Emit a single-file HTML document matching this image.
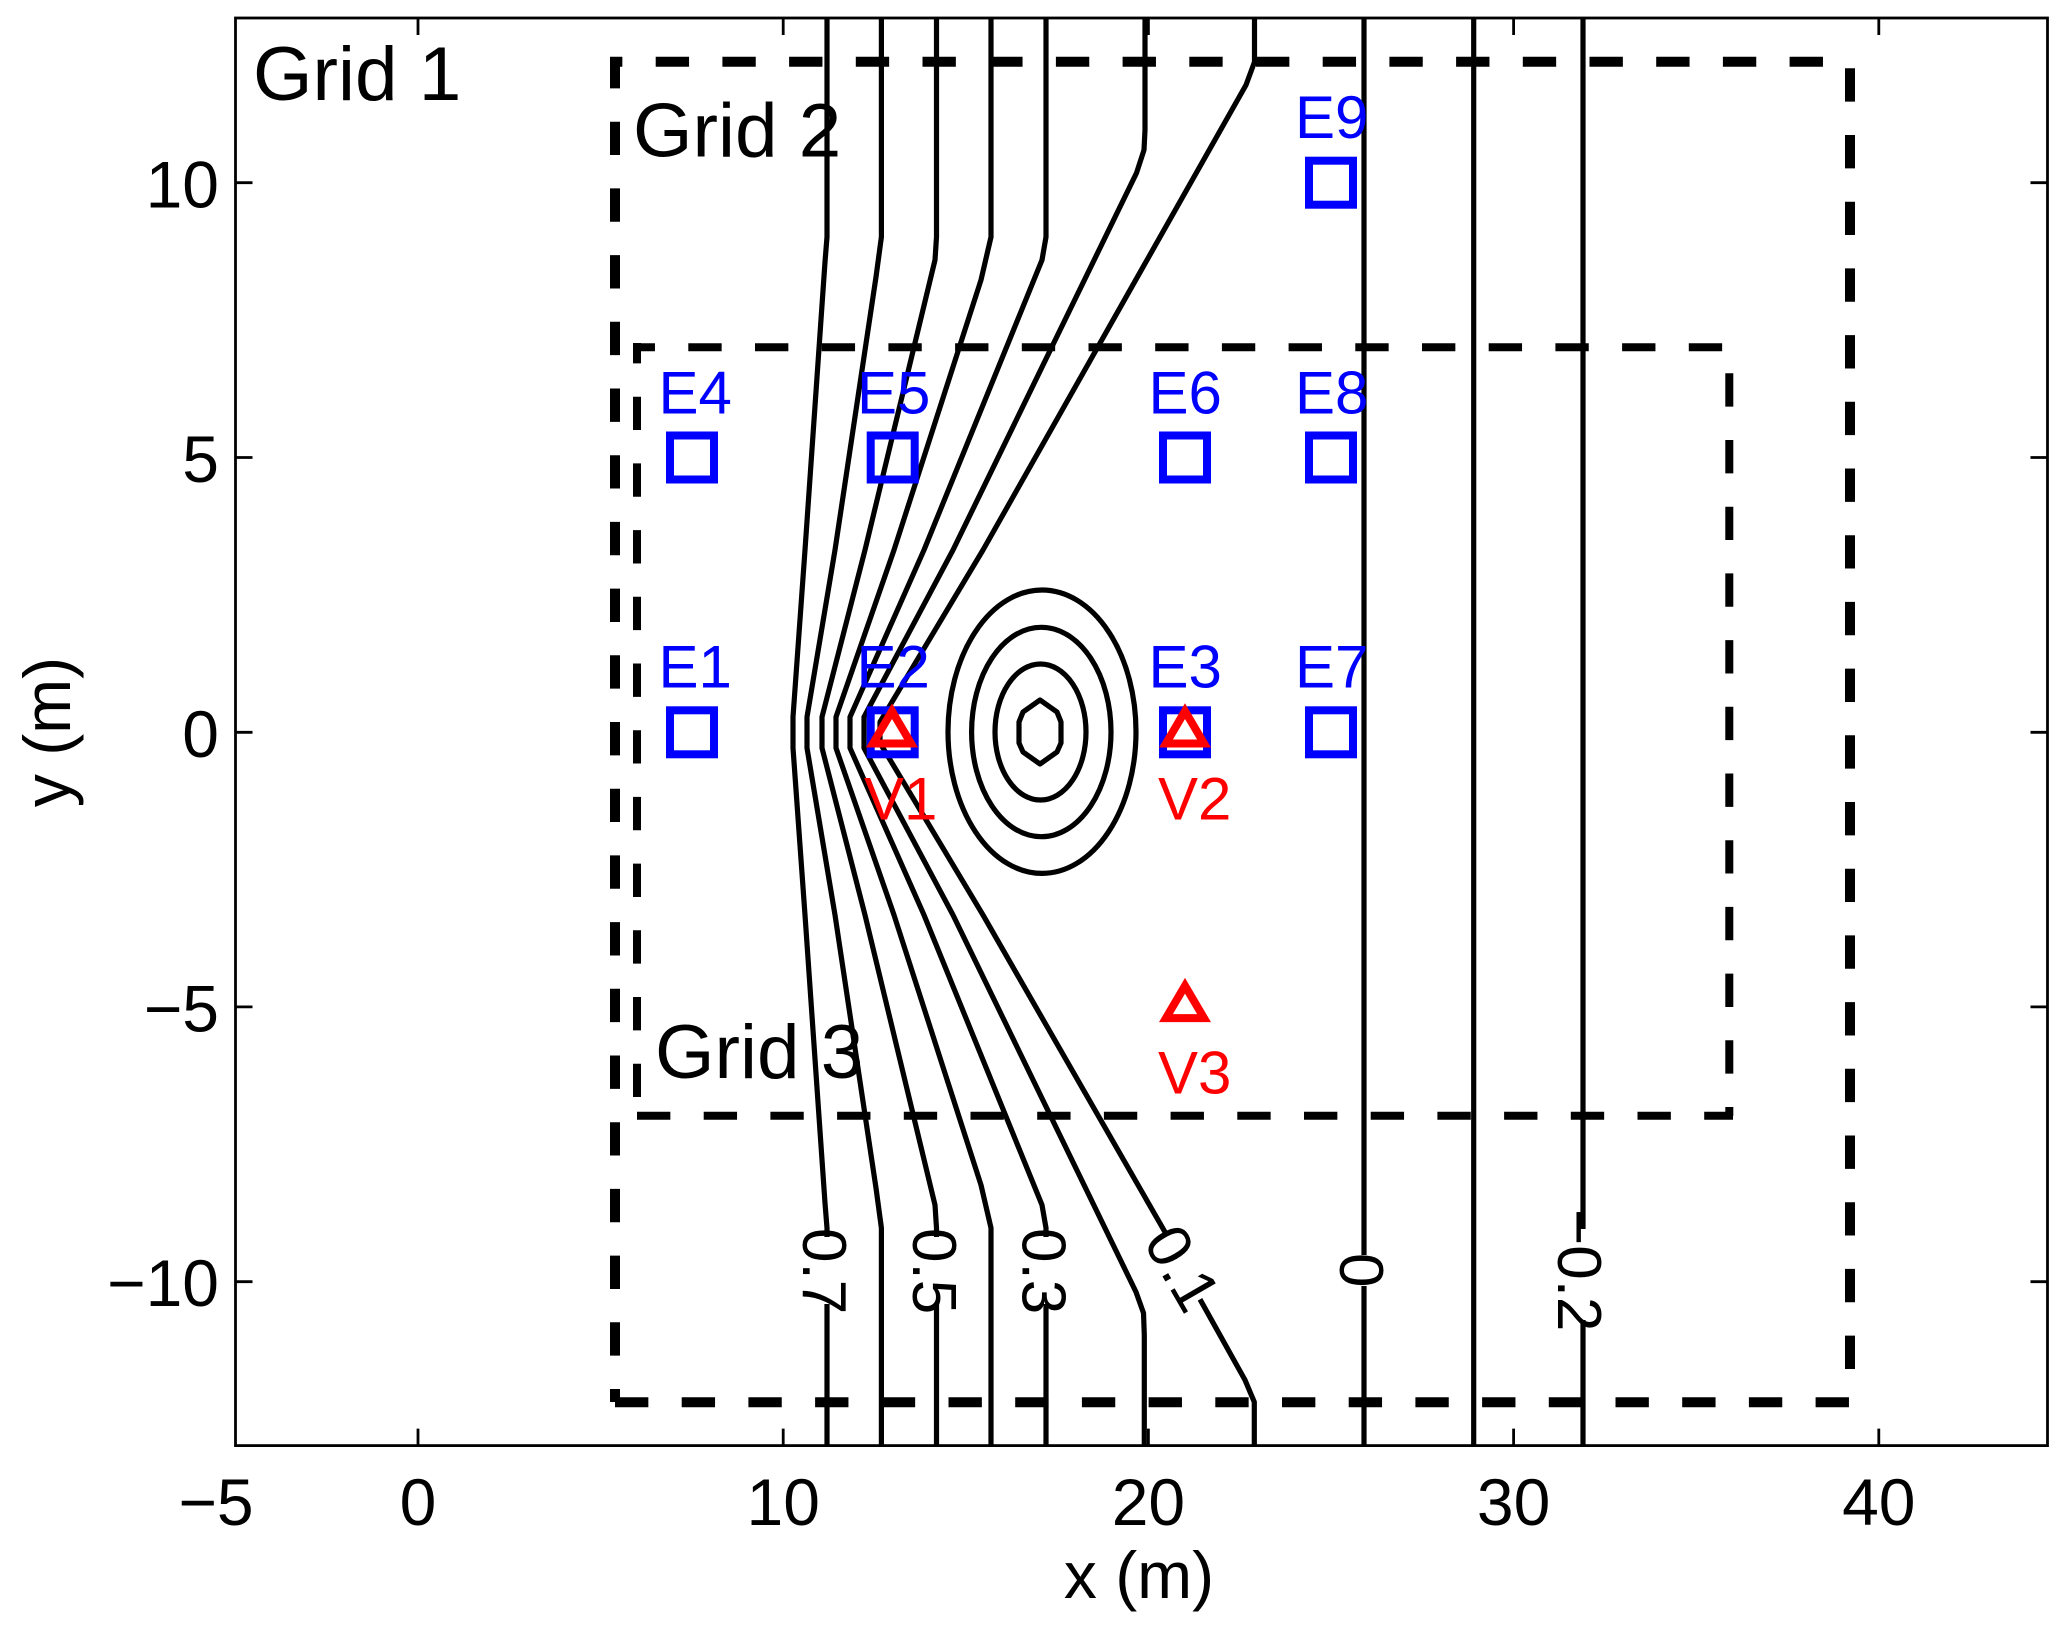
<!DOCTYPE html>
<html lang="en">
<head>
<meta charset="utf-8">
<title>Grid diagram</title>
<style>
html,body{margin:0;padding:0;background:#fff;}
svg{display:block;}
text{font-family:"Liberation Sans",sans-serif;}
</style>
</head>
<body>
<svg xmlns="http://www.w3.org/2000/svg" width="2067" height="1630" viewBox="0 0 2067 1630">
<rect width="2067" height="1630" fill="#fff"/>

<!-- axes frame -->
<rect x="235.5" y="18" width="1812" height="1427.6" fill="none" stroke="#000" stroke-width="2.8"/>
<g stroke="#000" stroke-width="2.8" fill="none">
<path d="M418 18v17M783.2 18v17M1148.4 18v17M1513.6 18v17M1878.8 18v17"/>
<path d="M418 1445.6v-17M783.2 1445.6v-17M1148.4 1445.6v-17M1513.6 1445.6v-17M1878.8 1445.6v-17"/>
<path d="M235.5 182.7h17M235.5 457.5h17M235.5 732.3h17M235.5 1006.9h17M235.5 1281.7h17"/>
<path d="M2047.5 182.7h-17M2047.5 457.5h-17M2047.5 732.3h-17M2047.5 1006.9h-17M2047.5 1281.7h-17"/>
</g>

<!-- tick labels -->
<g font-size="66" fill="#000" text-anchor="middle">
<text x="216" y="1525">−5</text>
<text x="418" y="1525">0</text>
<text x="783.2" y="1525">10</text>
<text x="1148.4" y="1525">20</text>
<text x="1513.6" y="1525">30</text>
<text x="1878.8" y="1525">40</text>
</g>
<g font-size="66" fill="#000" text-anchor="end">
<text x="219" y="207.5">10</text>
<text x="219" y="482">5</text>
<text x="219" y="757">0</text>
<text x="219" y="1031.5">−5</text>
<text x="219" y="1306">−10</text>
</g>
<text x="1139" y="1598" font-size="66" text-anchor="middle" fill="#000">x (m)</text>
<text transform="translate(70,732) rotate(-90)" font-size="66" text-anchor="middle" fill="#000">y (m)</text>

<!-- Grid 2 dashed -->
<g stroke="#000" stroke-width="10" fill="none" stroke-dasharray="33.35 33.35">
<line x1="610" y1="61.7" x2="1830" y2="61.7" stroke-dashoffset="21"/>
<line x1="615" y1="57" x2="615" y2="1402" stroke-dashoffset="2"/>
<line x1="1850" y1="68.3" x2="1850" y2="1369"/>
<line x1="615" y1="1402.3" x2="1850" y2="1402.3"/>
</g>
<!-- Grid 3 dashed -->
<g stroke="#000" stroke-width="8" fill="none" stroke-dasharray="33.35 33.35">
<line x1="633" y1="347.3" x2="1725" y2="347.3" stroke-dashoffset="11.4"/>
<line x1="637" y1="343" x2="637" y2="1100" stroke-dashoffset="13"/>
<line x1="1729.3" y1="373.3" x2="1729.3" y2="1116"/>
<line x1="637" y1="1115.8" x2="1733" y2="1115.8"/>
</g>

<!-- contours -->
<g stroke="#000" stroke-width="5.2" fill="none" stroke-linejoin="round">
<path d="M827 18V237L825 262L805 550L793 717V748L805 915L825 1203L827 1228V1237M827 1304V1445"/>
<path d="M881.4 18V237L876 277L835 550L807 717V748L835 915L876 1188L881.4 1228V1445"/>
<path d="M936.5 18V237L935 260L865 550L822 717V748L865 915L935 1205L936.5 1228V1237M936.5 1304V1445"/>
<path d="M991 18V237L981 280L894 550L836 717V748L894 915L981 1185L991 1228V1445"/>
<path d="M1046 18V237L1042 260L924 550L850 717V748L924 915L1042 1205L1046 1228V1237M1046 1304V1445"/>
<path d="M1145 18V130L1144 150L1136.5 173L953 550L864 717V748L953 915L1136 1292L1143.5 1313L1144.3 1335V1445"/>
<path d="M1254.5 18V62L1246 85L983 550L880 722V743L983 915L1166.7 1235M1200 1299.3L1245 1380L1254.3 1402V1445"/>
<path d="M1364 18V1255M1364 1286V1445"/>
<path d="M1473.7 18V1445"/>
<path d="M1583 18V1229M1583 1320V1445"/>
<ellipse cx="1042" cy="731.7" rx="94" ry="141.7"/>
<ellipse cx="1041.3" cy="732" rx="69.7" ry="104.7"/>
<ellipse cx="1040.5" cy="732" rx="45.5" ry="68"/>
<polygon points="1040,700 1057,712 1061,722 1061,743 1057,752 1040,764 1023,752 1019,743 1019,722 1023,712"/>
</g>

<!-- contour labels -->
<g font-size="62" fill="#000">
<text transform="translate(803,1228) rotate(90)">0.7</text>
<text transform="translate(913,1228) rotate(90)">0.5</text>
<text transform="translate(1022.5,1228) rotate(90)">0.3</text>
<text transform="translate(1183,1268) rotate(60)" text-anchor="middle" y="22">0.1</text>
<text transform="translate(1340,1253) rotate(90)">0</text>
<text transform="translate(1558,1209) rotate(90)">−0.2</text>
</g>

<!-- Grid labels -->
<g font-size="76.5" fill="#000">
<text x="253" y="100">Grid 1</text>
<text x="633" y="156.7">Grid 2</text>
<text x="655" y="1078">Grid 3</text>
</g>

<!-- E squares -->
<g fill="none" stroke="#0000ff" stroke-width="8">
<rect x="670" y="435.5" width="44" height="44"/>
<rect x="870.7" y="435.5" width="44" height="44"/>
<rect x="1163" y="435.5" width="44" height="44"/>
<rect x="1309" y="435.5" width="44" height="44"/>
<rect x="670" y="710.3" width="44" height="44"/>
<rect x="870.7" y="710.3" width="44" height="44"/>
<rect x="1163" y="710.3" width="44" height="44"/>
<rect x="1309" y="710.3" width="44" height="44"/>
<rect x="1309" y="160.7" width="44" height="44"/>
</g>
<g font-size="60" fill="#0000ff">
<text x="658.5" y="413.3">E4</text>
<text x="857" y="413.3">E5</text>
<text x="1148.5" y="413.3">E6</text>
<text x="1295" y="413.3">E8</text>
<text x="658.5" y="687.7">E1</text>
<text x="856.5" y="687.7">E2</text>
<text x="1148.5" y="687.7">E3</text>
<text x="1295" y="687.7">E7</text>
<text x="1295" y="138">E9</text>
</g>

<!-- V triangles -->
<g fill="#ff0000" fill-rule="evenodd">
<path d="M892 703.3L918 747.5H866ZM892 719L904.1 739.5H879.9Z"/>
<path d="M1185 703.3L1211 747.5H1159ZM1185 719L1197.1 739.5H1172.9Z"/>
<path d="M1185 977.9L1211 1022.1H1159ZM1185 993.6L1197.1 1014.1H1172.9Z"/>
</g>
<g font-size="60" fill="#ff0000">
<text x="864" y="819.3">V1</text>
<text x="1158" y="819.3">V2</text>
<text x="1158" y="1093.7">V3</text>
</g>
</svg>
</body>
</html>
